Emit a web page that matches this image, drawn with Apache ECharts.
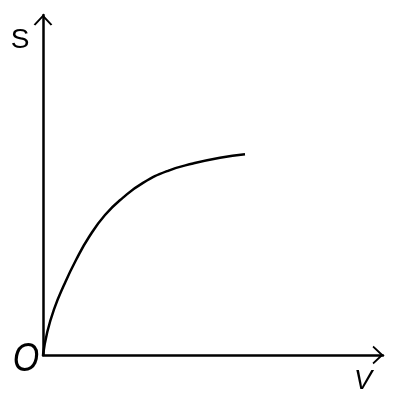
<!DOCTYPE html>
<html>
<head>
<meta charset="utf-8">
<script src="https://cdn.jsdelivr.net/npm/echarts@6/dist/echarts.min.js"></script>
<style>
html,body{margin:0;padding:0;background:#fff;}
#box1{width:400px;height:401px;}
</style>
</head>
<body>
<div id="box1"></div>
<script>
// curve (axis units = px from origin)
var vValues = [0, 4, 11, 21, 33, 46, 62, 80, 100, 125, 150, 177, 202];
var sValues = [0, 21.8, 45.7, 70, 95, 118, 140, 157.4, 172.1, 184.2, 191.5, 197.3, 200.7];
var axisMax = 340;

// open chevron arrow head (17 x 10)
var arrowPath = 'path://M8.5,0 L17,9 L15.5,10 L8.5,2.6 L1.5,10 L0,9 Z';

var myChart1 = echarts.init(document.getElementById('box1'));
var points = vValues.map(function (v, i) { return [v, sValues[i]]; });

var axisStyle = {
    show: true,
    symbol: ['none', arrowPath],
    symbolSize: [19, 11],
    symbolOffset: [0, -5],
    lineStyle: { color: '#000', width: 2.5 }
};

var option = {
    backgroundColor: '#fff',
    animation: false,
    grid: {
        left: 43,
        bottom: 46,
        width: 340,
        height: 340
    },
    xAxis: {
        type: 'value',
        min: 0,
        max: axisMax,
        axisLine: axisStyle,
        axisTick: { show: false },
        axisLabel: { show: false },
        splitLine: { show: false }
    },
    yAxis: {
        type: 'value',
        min: 0,
        max: axisMax,
        axisLine: axisStyle,
        axisTick: { show: false },
        axisLabel: { show: false },
        splitLine: { show: false }
    },
    graphic: [
        { type: 'text', x: 20, y: 40, style: { text: 'S', font: '28px "Liberation Sans"', fill: '#000', textAlign: 'center', textVerticalAlign: 'middle' } },
        { type: 'text', x: 26, y: 360, scaleX: 0.85, style: { text: 'O', font: 'italic 40px "Liberation Sans"', fill: '#000', textAlign: 'center', textVerticalAlign: 'middle' } },
        { type: 'text', x: 363, y: 381, style: { text: 'V', font: 'italic 27px "Liberation Sans"', fill: '#000', textAlign: 'center', textVerticalAlign: 'middle' } }
    ],
    series: [{
        type: 'line',
        data: points,
        smooth: 0.5,
        showSymbol: false,
        lineStyle: { color: '#000', width: 2.5 }
    }]
};

myChart1.setOption(option);
</script>
</body>
</html>
